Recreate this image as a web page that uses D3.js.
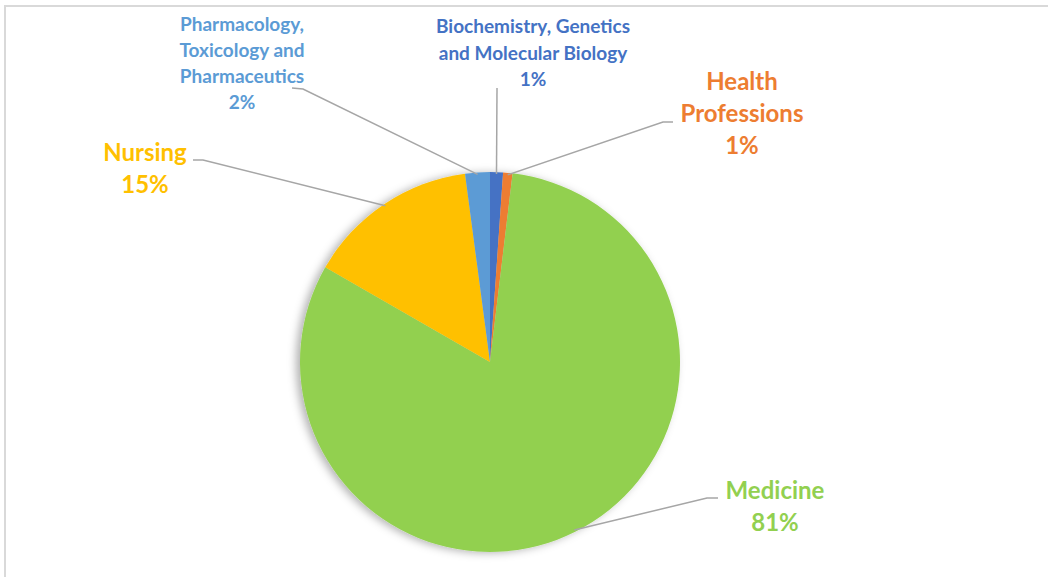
<!DOCTYPE html>
<html>
<head>
<meta charset="utf-8">
<script src="https://cdn.jsdelivr.net/npm/d3@7"></script>
<style>
  html, body { margin: 0; padding: 0; background: #fff; }
  svg { display: block; }
  text { font-family: Lato, "Open Sans", sans-serif; font-weight: 700; }
</style>
</head>
<body>
<div id="chart"></div>
<script>
// subject areas, in the order the pie draws them (clockwise from 12 o'clock)
const categories = [
  "Biochemistry, Genetics and Molecular Biology",
  "Health Professions",
  "Medicine",
  "Nursing",
  "Pharmacology, Toxicology and Pharmaceutics"
]
const shares = [1.1, 0.8, 81.4, 14.6, 2.1]
const pctLabels = ["1%", "1%", "81%", "15%", "2%"]
const colors = ["#4472C4", "#ED7D31", "#92D050", "#FFC000", "#5B9BD5"]

// label layout (not data): text lines, center, first baseline, line height, elbow
const labelLayout = [
  {lines: ["Biochemistry, Genetics", "and Molecular Biology"], x: 533, y: 33, lh: 26.5, size: 19, elbow: [[497, 88], [497, 88]]},
  {lines: ["Health", "Professions"], x: 742, y: 90, lh: 32, size: 24, elbow: [[673, 122], [663, 122]]},
  {lines: ["Medicine"], x: 775, y: 499, lh: 32, size: 24, elbow: [[718, 498], [707, 498]]},
  {lines: ["Nursing"], x: 145, y: 161, lh: 32, size: 24, elbow: [[193, 160], [203, 160]]},
  {lines: ["Pharmacology,", "Toxicology and", "Pharmaceutics"], x: 242, y: 31, lh: 26, size: 19, elbow: [[292, 88], [303, 89]]}
]

const width = 1048
const height = 577
const center = {x: 490, y: 362}
const radius = 190

const svg = d3.select("#chart").append("svg")
  .attr("width", width)
  .attr("height", height)

// chart frame (only top and left edges fall inside the picture)
svg.append("rect")
  .attr("x", 5)
  .attr("y", 6)
  .attr("width", 1100)
  .attr("height", 700)
  .attr("fill", "none")
  .attr("stroke", "#d9d9d9")
  .attr("stroke-width", 2)

const defs = svg.append("defs")
const shadow = defs.append("filter")
  .attr("id", "pie-shadow")
  .attr("x", "-20%").attr("y", "-20%")
  .attr("width", "140%").attr("height", "140%")
shadow.append("feDropShadow")
  .attr("dx", -4)
  .attr("dy", 1)
  .attr("stdDeviation", 4)
  .attr("flood-color", "#000")
  .attr("flood-opacity", 0.3)

const data = categories.map((c, i) => ({name: c, value: shares[i], pct: pctLabels[i], color: colors[i], layout: labelLayout[i]}))

const pie = d3.pie()
  .value((d) => d.value)
  .sort(null)
  .startAngle(0)
  .endAngle(2 * Math.PI)

const arc = d3.arc()
  .innerRadius(0)
  .outerRadius(radius)

const edgeArc = d3.arc()
  .innerRadius(radius - 2)
  .outerRadius(radius - 2)

const arcs = pie(data)

const g = svg.append("g")
  .attr("transform", `translate(${center.x},${center.y})`)

g.append("g")
  .attr("filter", "url(#pie-shadow)")
  .selectAll("path")
  .data(arcs)
  .enter().append("path")
    .attr("d", arc)
    .attr("fill", (d) => d.data.color)

// leader lines
const line = d3.line()
svg.append("g")
  .selectAll("path")
  .data(arcs)
  .enter().append("path")
    .attr("d", (d) => {
      const [cx, cy] = edgeArc.centroid(d)
      const [a, b] = d.data.layout.elbow
      return line([a, b, [center.x + cx, center.y + cy]])
    })
    .attr("fill", "none")
    .attr("stroke", "#a6a6a6")
    .attr("stroke-width", 1.5)

// labels
const labels = svg.append("g")
  .selectAll("text")
  .data(arcs)
  .enter().append("text")
    .attr("text-anchor", "middle")
    .attr("fill", (d) => d.data.color)
    .attr("font-size", (d) => d.data.layout.size)

labels.each(function (d) {
  const t = d3.select(this)
  const lay = d.data.layout
  lay.lines.concat([d.data.pct]).forEach((txt, i) => {
    t.append("tspan")
      .attr("x", lay.x)
      .attr("y", lay.y + i * lay.lh)
      .text(txt)
  })
})
</script>
</body>
</html>
